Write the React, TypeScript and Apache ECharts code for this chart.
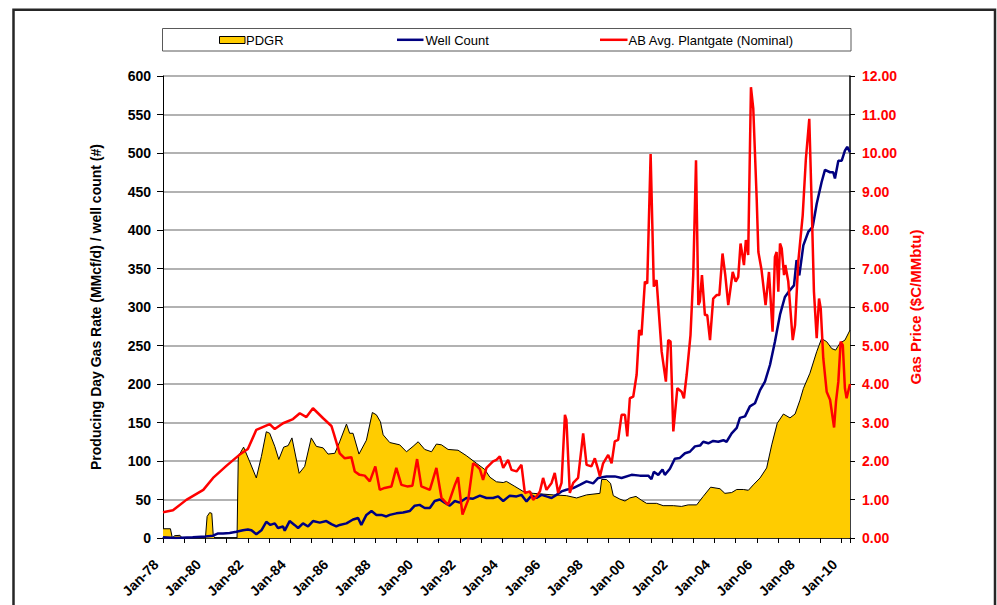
import React, { useEffect, useRef } from "react";
import * as echarts from "echarts";

const FONT = "'Liberation Sans', Arial, Helvetica, sans-serif";

// x axis: decimal years
const X_MIN = 1978;
const X_MAX = 2010.39;
const X_LABEL_STEP = 2;

const LEFT_AXIS_NAME = "Producing Day Gas Rate (MMcf/d) / well count (#)";
const RIGHT_AXIS_NAME = "Gas Price ($C/MMbtu)";
const LEGEND_NAMES = ["PDGR", "Well Count", "AB Avg. Plantgate (Nominal)"];

// PDGR (MMcf/d) [year, value]
const PDGR: [number, number][] = [
  [1978.0, 12], [1978.35, 12], [1978.44, 0], [1978.55, 3], [1978.8, 3.5], [1978.9, 0],
  [1980.0, 0], [1980.08, 28], [1980.2, 33], [1980.3, 32], [1980.37, 3], [1980.45, 0],
  [1981.49, 0], [1981.55, 106], [1981.8, 118], [1982.09, 99], [1982.4, 78], [1982.64, 106],
  [1982.87, 138], [1983.03, 136], [1983.27, 119], [1983.46, 102], [1983.69, 118], [1983.9, 120],
  [1984.08, 130], [1984.42, 84], [1984.68, 93], [1984.99, 130], [1985.23, 119], [1985.55, 117],
  [1985.78, 109], [1986.1, 110], [1986.33, 125], [1986.65, 148], [1986.8, 136], [1986.96, 136],
  [1987.24, 109], [1987.59, 127], [1987.87, 163], [1988.06, 160], [1988.25, 151], [1988.38, 134],
  [1988.69, 124], [1989.16, 121], [1989.48, 112], [1989.79, 119], [1990.03, 125], [1990.34, 115],
  [1990.66, 112], [1990.89, 122], [1991.13, 121], [1991.44, 115], [1991.91, 114], [1992.3, 107],
  [1992.78, 97], [1993.17, 89], [1993.41, 79], [1993.72, 73], [1994.04, 72], [1994.19, 73.5],
  [1994.59, 67], [1994.98, 60.5], [1995.45, 58], [1995.92, 57], [1996.4, 56], [1997.02, 55],
  [1997.5, 52], [1997.97, 56], [1998.6, 58], [1998.68, 76], [1998.91, 76], [1999.1, 71],
  [1999.23, 55], [1999.54, 50.5], [1999.78, 48], [2000.01, 52], [2000.3, 54], [2000.56, 49],
  [2000.8, 45], [2001.27, 45], [2001.58, 42], [2002.06, 42], [2002.45, 41], [2002.76, 43],
  [2003.16, 43], [2003.47, 54], [2003.82, 66], [2004.26, 64], [2004.49, 58], [2004.81, 59],
  [2005.05, 63], [2005.36, 63], [2005.6, 62], [2005.83, 69], [2006.15, 78], [2006.46, 91],
  [2006.7, 121], [2006.96, 149], [2007.25, 161], [2007.56, 156], [2007.8, 161], [2008.03, 179],
  [2008.19, 194], [2008.5, 214], [2008.82, 242], [2009.05, 259], [2009.29, 255], [2009.53, 246],
  [2009.71, 244], [2009.92, 253], [2010.15, 257], [2010.39, 270],
];

// Well count (#) [year, value]
const WELLS: [number, number][] = [
  [1978.0, 1], [1978.6, 0], [1979.4, 1], [1980.0, 2], [1980.36, 3], [1980.6, 6], [1980.83, 6],
  [1981.14, 6.5], [1981.46, 8], [1981.77, 10], [1982.0, 11], [1982.17, 10], [1982.4, 5],
  [1982.64, 10], [1982.87, 21], [1983.06, 17], [1983.27, 19], [1983.42, 13], [1983.66, 15],
  [1983.74, 9.5], [1983.97, 22], [1984.2, 17], [1984.37, 13], [1984.6, 19], [1984.84, 15],
  [1985.07, 22], [1985.39, 20], [1985.7, 22], [1985.94, 18], [1986.17, 15], [1986.33, 17],
  [1986.65, 19], [1986.96, 24], [1987.2, 26], [1987.35, 17], [1987.59, 30], [1987.83, 35],
  [1988.06, 30], [1988.3, 30], [1988.53, 28], [1988.69, 30], [1989.0, 32], [1989.32, 33],
  [1989.63, 35], [1989.87, 42], [1990.1, 43], [1990.34, 39], [1990.58, 39], [1990.81, 48],
  [1991.05, 50], [1991.28, 46], [1991.52, 42], [1991.76, 48], [1991.99, 46], [1992.3, 52],
  [1992.62, 51], [1992.94, 55], [1993.25, 52], [1993.56, 52], [1993.8, 54], [1994.04, 48],
  [1994.35, 55], [1994.67, 54], [1994.9, 56], [1995.14, 47.5], [1995.37, 55], [1995.61, 52],
  [1995.85, 56], [1996.08, 54], [1996.32, 52], [1996.55, 56], [1996.79, 60.5], [1997.02, 62.7],
  [1997.34, 64.8], [1997.65, 69], [1997.97, 73.5], [1998.28, 71], [1998.52, 78], [1998.91, 80],
  [1999.3, 80], [1999.62, 78], [2000.09, 82], [2000.48, 81], [2000.88, 81], [2001.03, 76.5],
  [2001.14, 86], [2001.35, 82], [2001.55, 89], [2001.66, 82], [2001.9, 90], [2002.13, 103],
  [2002.37, 104], [2002.61, 110], [2002.84, 112], [2003.08, 119], [2003.32, 120], [2003.47, 125],
  [2003.71, 123], [2003.94, 126], [2004.18, 125], [2004.42, 127], [2004.57, 125], [2004.81, 136],
  [2005.05, 143], [2005.2, 156], [2005.44, 158], [2005.67, 171], [2005.91, 175], [2006.15, 192],
  [2006.38, 203], [2006.62, 225], [2006.85, 255], [2007.09, 290], [2007.32, 313], [2007.56, 322],
  [2007.75, 328], [2007.87, 361], [2008.0, 341], [2008.19, 380], [2008.43, 398], [2008.63, 404],
  [2008.82, 434], [2009.05, 462], [2009.21, 478], [2009.45, 475], [2009.6, 475], [2009.68, 467],
  [2009.84, 490], [2010.0, 490], [2010.15, 503], [2010.26, 508], [2010.39, 501],
];

// AB average plantgate price ($C/MMbtu) [year, value]
const PRICE: [number, number][] = [
  [1978.0, 0.67], [1978.47, 0.72], [1979.1, 0.99], [1979.9, 1.25], [1980.36, 1.56], [1981.0, 1.88],
  [1981.6, 2.16], [1982.0, 2.31], [1982.4, 2.81], [1983.03, 2.96], [1983.27, 2.83], [1983.66, 2.98],
  [1984.13, 3.09], [1984.45, 3.24], [1984.76, 3.14], [1985.07, 3.37], [1985.55, 3.11], [1985.94, 2.91],
  [1986.05, 2.72], [1986.33, 2.2], [1986.57, 2.07], [1986.88, 2.1], [1987.04, 1.73], [1987.27, 1.64],
  [1987.51, 1.62], [1987.75, 1.47], [1988.01, 1.86], [1988.22, 1.25], [1988.45, 1.3], [1988.77, 1.34],
  [1989.0, 1.82], [1989.24, 1.38], [1989.51, 1.34], [1989.76, 1.36], [1989.98, 2.05], [1990.18, 1.34],
  [1990.58, 1.25], [1990.89, 1.82], [1991.13, 1.04], [1991.44, 0.86], [1991.76, 1.38], [1991.91, 1.58],
  [1992.12, 0.61], [1992.39, 0.99], [1992.62, 1.94], [1992.78, 1.88], [1992.94, 1.79], [1993.09, 1.51],
  [1993.25, 1.82], [1993.56, 1.99], [1993.72, 2.03], [1993.88, 2.12], [1994.04, 1.82], [1994.27, 2.03],
  [1994.43, 1.77], [1994.67, 1.73], [1994.9, 1.9], [1995.06, 1.17], [1995.3, 1.21], [1995.45, 0.99],
  [1995.61, 1.08], [1995.77, 1.21], [1995.92, 1.56], [1996.08, 1.25], [1996.32, 1.43], [1996.47, 1.69],
  [1996.63, 1.17], [1996.79, 1.43], [1996.95, 3.2], [1997.02, 3.07], [1997.18, 1.17], [1997.34, 1.43],
  [1997.57, 1.56], [1997.81, 2.72], [1997.97, 1.9], [1998.2, 1.86], [1998.36, 2.07], [1998.52, 1.77],
  [1998.6, 1.6], [1998.75, 1.94], [1998.99, 2.16], [1999.15, 1.94], [1999.3, 2.51], [1999.46, 2.55],
  [1999.62, 3.2], [1999.78, 3.2], [1999.89, 2.64], [2000.01, 3.63], [2000.17, 3.67], [2000.33, 4.24],
  [2000.45, 5.4], [2000.56, 5.27], [2000.72, 6.66], [2000.83, 6.61], [2000.99, 9.97], [2001.14, 6.53],
  [2001.27, 6.7], [2001.51, 4.84], [2001.71, 4.06], [2001.82, 5.14], [2001.93, 5.1], [2002.06, 2.77],
  [2002.25, 3.89], [2002.45, 3.8], [2002.56, 3.63], [2002.69, 4.24], [2002.87, 5.27], [2003.0, 6.83],
  [2003.13, 9.81], [2003.24, 6.05], [2003.31, 6.14], [2003.41, 6.83], [2003.55, 5.79], [2003.66, 5.79],
  [2003.79, 5.14], [2003.94, 6.22], [2004.1, 6.31], [2004.23, 6.31], [2004.38, 7.39], [2004.51, 6.83],
  [2004.65, 6.05], [2004.86, 6.91], [2005.0, 6.66], [2005.12, 6.78], [2005.23, 7.65], [2005.39, 7.09],
  [2005.48, 7.74], [2005.59, 7.35], [2005.72, 11.71], [2005.83, 11.15], [2005.99, 8.82], [2006.07, 7.43],
  [2006.22, 6.96], [2006.41, 6.05], [2006.57, 6.91], [2006.74, 5.36], [2006.85, 7.3], [2006.93, 7.43],
  [2007.01, 6.4], [2007.09, 7.65], [2007.17, 7.52], [2007.28, 6.83], [2007.34, 7.09], [2007.48, 6.66],
  [2007.69, 5.14], [2007.8, 5.53], [2007.95, 7.17], [2008.16, 8.38], [2008.31, 9.85], [2008.47, 10.89],
  [2008.58, 8.73], [2008.69, 6.4], [2008.82, 5.19], [2008.93, 6.22], [2009.01, 5.96], [2009.13, 4.67],
  [2009.29, 3.8], [2009.45, 3.59], [2009.64, 2.87], [2009.73, 3.54], [2009.84, 4.06], [2009.95, 5.1],
  [2010.05, 5.01], [2010.15, 3.89], [2010.23, 3.63], [2010.39, 4.0],
];

const YELLOW = "#FFCC00";
const NAVY = "#000080";
const RED = "#FF0000";

function xLabel(v: number): string {
  const r = Math.round(v);
  if (Math.abs(v - r) > 1e-6) return "";
  if ((r - X_MIN) % X_LABEL_STEP !== 0) return "";
  return "Jan-" + String(r).slice(2);
}

export default function App() {
  const ref = useRef<HTMLDivElement>(null);

  useEffect(() => {
    if (!ref.current) return;
    const chart = echarts.init(ref.current, null, { renderer: "svg" });
    const legendText = (x: number, text: string) => ({
      type: "text",
      x,
      y: 40,
      style: {
        text,
        fill: "#000",
        font: `13px ${FONT}`,
        textVerticalAlign: "middle",
        verticalAlign: "middle",
      },
    });
    chart.setOption({
      animation: false,
      backgroundColor: "#ffffff",
      grid: { left: 163, right: 147, top: 76, bottom: 67, containLabel: false },
      xAxis: {
        type: "value",
        min: X_MIN,
        max: X_MAX,
        interval: 1,
        axisLine: { show: true, lineStyle: { color: "#000", width: 1.5 } },
        axisTick: { show: true, length: 5, lineStyle: { color: "#000", width: 1 } },
        axisLabel: {
          rotate: 45,
          margin: 17,
          padding: [0, 10, 0, 0],
          fontSize: 14,
          fontWeight: "bold",
          fontFamily: FONT,
          color: "#000",
          formatter: xLabel,
          showMinLabel: true,
          showMaxLabel: true,
        },
        splitLine: { show: false },
      },
      yAxis: [
        {
          type: "value",
          min: 0,
          max: 600,
          interval: 50,
          position: "left",
          name: LEFT_AXIS_NAME,
          nameLocation: "middle",
          nameGap: 60,
          nameTextStyle: { fontSize: 14, fontWeight: "bold", fontFamily: FONT, color: "#000" },
          axisLine: { show: true, lineStyle: { color: "#000", width: 1 } },
          axisTick: { show: true, length: 6, lineStyle: { color: "#000" } },
          axisLabel: { margin: 12, fontSize: 14, fontWeight: "bold", fontFamily: FONT, color: "#000" },
          splitLine: { show: true, lineStyle: { color: "#999", width: 1.5 } },
        },
        {
          type: "value",
          min: 0,
          max: 12,
          interval: 1,
          position: "right",
          name: RIGHT_AXIS_NAME,
          nameLocation: "middle",
          nameGap: 57,
          nameTextStyle: { fontSize: 15, fontWeight: "bold", fontFamily: FONT, color: RED },
          axisLine: { show: true, lineStyle: { color: "#000", width: 1.5 } },
          axisTick: { show: true, length: 5, lineStyle: { color: "#000" } },
          axisLabel: {
            margin: 12,
            fontSize: 14,
            fontWeight: "bold",
            fontFamily: FONT,
            color: RED,
            formatter: (v: number) => v.toFixed(2),
          },
          splitLine: { show: false },
        },
      ],
      series: [
        {
          name: LEGEND_NAMES[0],
          type: "line",
          yAxisIndex: 0,
          data: PDGR,
          symbol: "none",
          lineStyle: { color: "#000", width: 1 },
          areaStyle: { color: YELLOW, opacity: 1 },
          z: 2,
        },
        {
          name: LEGEND_NAMES[1],
          type: "line",
          yAxisIndex: 0,
          data: WELLS,
          symbol: "none",
          lineStyle: { color: NAVY, width: 2.5 },
          z: 3,
        },
        {
          name: LEGEND_NAMES[2],
          type: "line",
          yAxisIndex: 1,
          data: PRICE,
          symbol: "none",
          lineStyle: { color: RED, width: 2.5 },
          z: 4,
        },
      ],
      graphic: [
        {
          type: "rect",
          shape: { x: 13.5, y: 9.8, width: 981.5, height: 700 },
          style: { fill: "none", stroke: "#262626", lineWidth: 2.5 },
          silent: true,
        },
        {
          type: "rect",
          shape: { x: 162.5, y: 28.5, width: 688.5, height: 22.5 },
          style: { fill: "#fff", stroke: "#595959", lineWidth: 1 },
          silent: true,
        },
        {
          type: "rect",
          shape: { x: 219.5, y: 36.5, width: 25.5, height: 7 },
          style: { fill: YELLOW, stroke: "#000", lineWidth: 1 },
        },
        legendText(246, LEGEND_NAMES[0]),
        {
          type: "line",
          shape: { x1: 397, y1: 39.8, x2: 423.5, y2: 39.8 },
          style: { stroke: NAVY, lineWidth: 2.5 },
        },
        legendText(425.5, LEGEND_NAMES[1]),
        {
          type: "line",
          shape: { x1: 600, y1: 39.8, x2: 627.5, y2: 39.8 },
          style: { stroke: RED, lineWidth: 2.5 },
        },
        legendText(628.5, LEGEND_NAMES[2]),
      ],
    });
    return () => chart.dispose();
  }, []);

  return (
    <div
      ref={ref}
      style={{ position: "absolute", left: 0, top: 0, width: 997, height: 605, background: "#fff" }}
    />
  );
}
